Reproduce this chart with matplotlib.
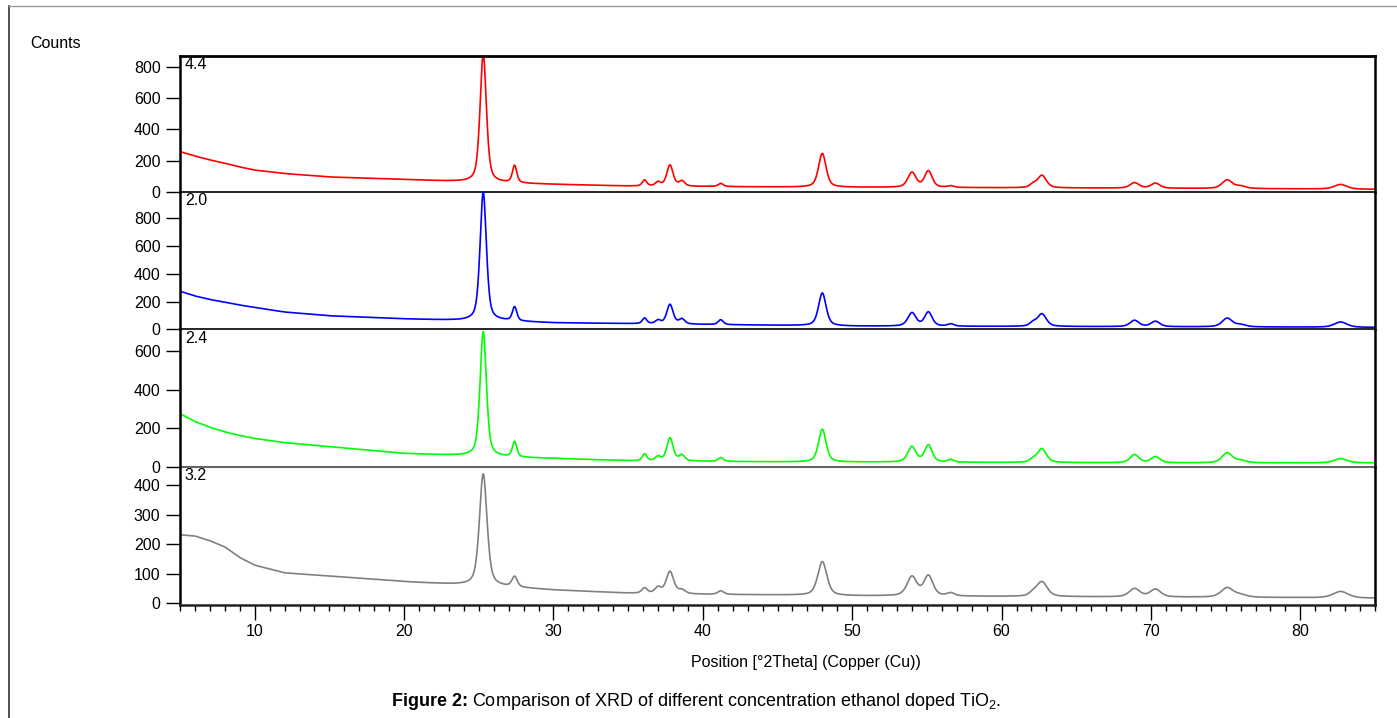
import numpy as np
import matplotlib.pyplot as plt
from matplotlib.lines import Line2D

plt.rcParams['font.family'] = ['Liberation Sans', 'DejaVu Sans']
plt.rcParams['mathtext.fontset'] = 'custom'
plt.rcParams['mathtext.rm'] = 'Liberation Sans'
plt.rcParams['mathtext.bf'] = 'Liberation Sans:bold'

# sample names (top to bottom)
labels = ['4.4', '2.0', '2.4', '3.2']
colors = ['#ff0000', '#0000ff', '#00ff00', '#808080']

# peak positions [°2Theta] and widths (FWHM)
peak_pos = [25.3, 27.4, 36.1, 37.0, 37.8, 38.6, 41.2, 48.0, 54.0, 55.1,
            56.6, 62.1, 62.7, 68.9, 70.3, 75.1, 76.0, 82.7]
peak_fwhm = [0.5, 0.35, 0.35, 0.4, 0.5, 0.45, 0.4, 0.6, 0.65, 0.6,
             0.5, 0.5, 0.7, 0.7, 0.7, 0.8, 0.8, 1.0]

# net peak heights (counts above background) for every sample
h_44 = [820, 110, 38, 25, 135, 32, 20, 216, 95, 105, 10, 20, 80, 35, 32, 55, 15, 30]
h_20 = [920, 100, 40, 25, 140, 35, 35, 235, 95, 100, 16, 25, 90, 45, 38, 62, 15, 38]
h_24 = [650, 80, 35, 22, 120, 30, 20, 170, 80, 88, 13, 15, 72, 42, 32, 52, 12, 22]
h_32 = [380, 35, 18, 20, 75, 12, 12, 115, 65, 68, 10, 10, 50, 28, 26, 32, 8, 22]

# background read at some 2Theta positions
bg_pos = [5, 6, 7, 8, 9, 10, 12, 15, 20, 24, 26.5, 30, 35, 40, 45, 50, 60, 70, 80, 85]
bg_44 = [258, 230, 205, 184, 160, 140, 118, 96, 80, 65, 58, 49, 38, 35, 32, 30, 27, 24, 20, 17]
bg_20 = [274, 240, 215, 195, 175, 158, 125, 98, 76, 64, 62, 48, 42, 36, 30, 24, 22, 20, 17, 15]
bg_24 = [276, 235, 205, 181, 162, 147, 125, 104, 69, 57, 50, 43, 31, 28, 25, 24, 22, 20, 20, 20]
bg_32 = [232, 228, 212, 191, 155, 129, 103, 92, 73, 62, 56, 45, 34, 30, 28, 25, 23, 21, 19, 17]

heights = [h_44, h_20, h_24, h_32]
backgrounds = [bg_44, bg_20, bg_24, bg_32]
width_scale = [1.0, 1.0, 1.0, 1.2]

ylims = [(0, 870), (0, 985), (0, 714), (-6, 463)]
yticks = [range(0, 801, 200), range(0, 801, 200), range(0, 601, 200), range(0, 401, 100)]


def pattern(tt, peaks_h, bg, ws):
    # background + pseudo-Voigt peaks
    y = np.interp(tt, bg_pos, bg)
    for c, w, h in zip(peak_pos, peak_fwhm, peaks_h):
        w = w * ws
        d = (tt - c) ** 2 / w ** 2
        y += h * (0.5 * np.exp(-4 * np.log(2) * d) + 0.5 / (1 + 4 * d))
    return y


tt = np.arange(5, 85.001, 0.02)

W, H = 1397, 718
fig = plt.figure(figsize=(W / 100, H / 100), dpi=100)

# panel edges in pixels (top, bottom)
edges = [(56, 192), (192, 329.5), (329.5, 466.7), (466.7, 605)]
x0, x1 = 180, 1375
fs = 11.5

for i in range(4):
    top, bot = edges[i]
    ax = fig.add_axes([x0 / W, 1 - bot / H, (x1 - x0) / W, (bot - top) / H])
    ax.patch.set_visible(False)
    ax.plot(tt, pattern(tt, heights[i], backgrounds[i], width_scale[i]),
            color=colors[i], lw=1.2)
    ax.set_xlim(5, 85)
    ax.set_ylim(*ylims[i])
    ax.set_yticks(list(yticks[i]))
    ax.tick_params(axis='y', direction='out', length=10, width=1, labelsize=fs, pad=4)
    ax.text(0.004, 0.99, labels[i], transform=ax.transAxes, ha='left', va='top',
            fontsize=fs)
    ax.spines['left'].set_linewidth(1.8)
    ax.spines['right'].set_linewidth(1.8)
    ax.spines['top'].set_visible(i == 0)
    ax.spines['top'].set_linewidth(2.0)
    ax.spines['bottom'].set_linewidth(1.2)
    if i == 2:
        ax.spines['bottom'].set_color('#666666')
        ax.spines['bottom'].set_linewidth(1.5)
    if i < 3:
        ax.set_xticks([])
    else:
        ax.spines['bottom'].set_linewidth(1.8)
        ax.spines['bottom'].set_color('#222222')
        ax.set_xticks(range(10, 81, 10))
        ax.set_xticks(range(5, 86, 1), minor=True)
        ax.tick_params(axis='x', which='major', direction='out', length=11, width=1,
                       labelsize=fs, pad=3)
        ax.tick_params(axis='x', which='minor', direction='out', length=4, width=1)

fig.text(30 / W, 1 - 43 / H, 'Counts', ha='left', va='center', fontsize=fs)
fig.text(806 / W, 1 - 662 / H, 'Position [°2Theta] (Copper (Cu))',
         ha='center', va='center', fontsize=fs)

# caption: bold part, then the normal part right after it
cap = fig.text(392 / W, 1 - 702 / H, 'Figure 2:', ha='left', va='center',
               fontsize=13, fontweight='bold')
plt.annotate(r'Comparison of XRD of different concentration ethanol doped TiO$_2$.',
             xy=(1, 0.5), xycoords=cap, xytext=(4, 0), textcoords='offset pixels',
             ha='left', va='center', fontsize=13)

# outer frame of the figure box
fig.add_artist(Line2D([9 / W, 9 / W], [0, 1 - 6 / H], color='#333333', lw=1.2))
fig.add_artist(Line2D([9 / W, 1], [1 - 6 / H, 1 - 6 / H], color='#999999', lw=1.0))

fig.savefig('out.png', dpi=100)
